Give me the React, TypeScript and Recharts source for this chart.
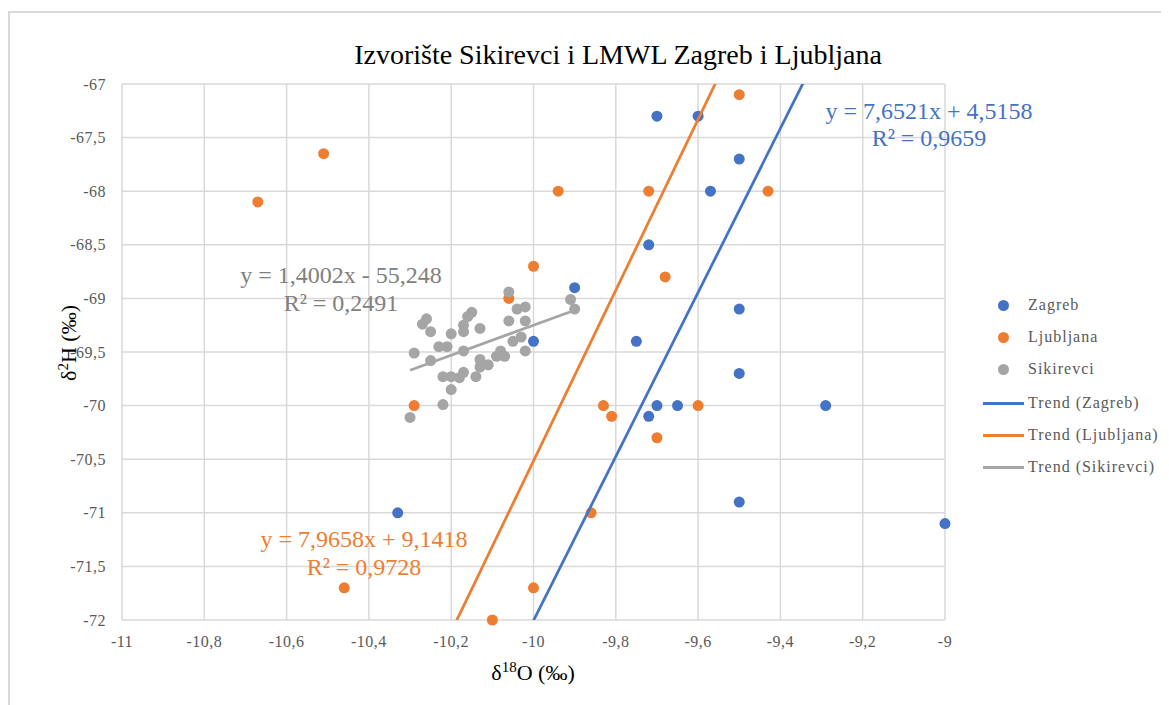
import React from 'react'
import { ScatterChart, Scatter, XAxis, YAxis, CartesianGrid } from 'recharts'

// δ18O / δ2H pairs
const zagrebX = [-9.7, -9.6, -9.5, -9.57, -9.72, -9.9, -9.5, -9.75, -10.0, -9.5, -9.7, -9.65, -9.29, -9.72, -10.33, -9.5, -9.0]
const zagrebY = [-67.3, -67.3, -67.7, -68.0, -68.5, -68.9, -69.1, -69.4, -69.4, -69.7, -70.0, -70.0, -70.0, -70.1, -71.0, -70.9, -71.1]

const ljubljanaX = [-10.67, -10.51, -9.94, -9.72, -9.43, -9.5, -10.0, -9.68, -10.06, -10.29, -9.83, -9.81, -9.6, -9.7, -9.86, -10.46, -10.0, -10.1]
const ljubljanaY = [-68.1, -67.65, -68.0, -68.0, -68.0, -67.1, -68.7, -68.8, -69.0, -70.0, -70.0, -70.1, -70.0, -70.3, -71.0, -71.7, -71.7, -72.0]

const sikirevciX = [
  -10.06, -9.91, -9.9, -10.04, -10.02, -10.15, -10.16, -10.26, -10.27, -10.25,
  -10.06, -10.02, -10.17, -10.17, -10.2, -10.13, -10.23, -10.21, -10.05, -10.03,
  -10.02, -10.29, -10.17, -10.25, -10.13, -10.08, -10.09, -10.07, -10.11, -10.13,
  -10.22, -10.2, -10.18, -10.17, -10.14, -10.2, -10.22, -10.3,
]
const sikirevciY = [
  -68.94, -69.01, -69.1, -69.1, -69.08, -69.13, -69.17, -69.19, -69.24, -69.31,
  -69.21, -69.21, -69.25, -69.31, -69.33, -69.28, -69.45, -69.45, -69.4, -69.36,
  -69.49, -69.51, -69.49, -69.58, -69.57, -69.49, -69.54, -69.54, -69.62, -69.64,
  -69.73, -69.73, -69.74, -69.69, -69.73, -69.85, -69.99, -70.11,
]

// trend coefficients shown on the chart
const zagrebTrend = { slope: 7.6521, intercept: 4.5158 }
const ljubljanaTrend = { slope: 7.9658, intercept: 9.1418 }
const sikirevciTrend = { slope: 1.4002, intercept: -55.248 }

const xTicks = [-11, -10.8, -10.6, -10.4, -10.2, -10, -9.8, -9.6, -9.4, -9.2, -9]
const yTicks = [-72, -71.5, -71, -70.5, -70, -69.5, -69, -68.5, -68, -67.5, -67]

const BLUE = '#4472C4'
const ORANGE = '#ED7D31'
const GRAY = '#A5A5A5'
const SERIF = "'Liberation Serif', 'Times New Roman', serif"

const toPoints = (xs: number[], ys: number[]) => xs.map((x, i) => ({ x, y: ys[i] }))

const trendPoints = (xs: number[], t: { slope: number; intercept: number }) => {
  const lo = Math.min(...xs)
  const hi = Math.max(...xs)
  return [lo, hi].map((x) => ({ x, y: t.slope * x + t.intercept }))
}

const fmt = (v: number) => String(v).replace('.', ',')

const dot = (color: string) => (props: any) => (
  <circle cx={props.cx} cy={props.cy} r={5.5} fill={color} />
)
const noDot = () => <g />

const tickStyle = { fill: '#595959', fontSize: 16, fontFamily: SERIF, letterSpacing: 0.5, style: { fontFamily: SERIF } }

const legendItems = [
  { name: 'Zagreb', color: BLUE, kind: 'dot' },
  { name: 'Ljubljana', color: ORANGE, kind: 'dot' },
  { name: 'Sikirevci', color: GRAY, kind: 'dot' },
  { name: 'Trend (Zagreb)', color: BLUE, kind: 'line' },
  { name: 'Trend (Ljubljana)', color: ORANGE, kind: 'line' },
  { name: 'Trend (Sikirevci)', color: GRAY, kind: 'line' },
]
const legendRows = [297, 329, 361, 395, 427, 459]

const eqStyle = (color: string): React.CSSProperties => ({
  position: 'absolute',
  fontFamily: SERIF,
  fontSize: 24,
  color,
  whiteSpace: 'nowrap',
  transform: 'translate(-50%, -50%)',
  lineHeight: 1,
})

export default function App() {
  return (
    <div style={{ position: 'relative', width: 1161, height: 697, background: '#fff' }}>
      <div style={{ position: 'absolute', left: 0, top: 3, width: 1161, height: 1.5, background: '#D9D9D9' }} />
      <div style={{ position: 'absolute', left: 0, top: 3, width: 1.5, height: 694, background: '#D9D9D9' }} />

      <div
        style={{
          position: 'absolute', left: 610, top: 47, transform: 'translate(-50%, -50%)',
          fontFamily: SERIF, fontSize: 28, color: '#000', whiteSpace: 'nowrap', lineHeight: 1,
        }}
      >
        Izvorište Sikirevci i LMWL Zagreb i Ljubljana
      </div>

      <ScatterChart width={1161} height={697} margin={{ top: 76, right: 224, bottom: 0, left: 0 }}>
        <CartesianGrid stroke="#D9D9D9" strokeWidth={1.5} horizontalValues={yTicks} verticalValues={xTicks} />
        <XAxis
          type="number" dataKey="x" domain={[-11, -9]} ticks={xTicks} height={85}
          axisLine={false} tickLine={false} tickSize={8} tickMargin={8}
          tickFormatter={fmt}
          tick={tickStyle}
        />
        <YAxis
          type="number" dataKey="y" domain={[-72, -67]} ticks={yTicks} width={114}
          axisLine={false} tickLine={false} tickSize={8} tickMargin={8}
          tickFormatter={fmt}
          tick={tickStyle}
        />
        <XAxis xAxisId="t" type="number" dataKey="x" domain={[-11, -9]} hide allowDataOverflow />
        <YAxis yAxisId="t" type="number" dataKey="y" domain={[-72, -67]} hide allowDataOverflow />

        <Scatter name="Zagreb" data={toPoints(zagrebX, zagrebY)} fill={BLUE} shape={dot(BLUE)} isAnimationActive={false} />
        <Scatter name="Ljubljana" data={toPoints(ljubljanaX, ljubljanaY)} fill={ORANGE} shape={dot(ORANGE)} isAnimationActive={false} />
        <Scatter name="Sikirevci" data={toPoints(sikirevciX, sikirevciY)} fill={GRAY} shape={dot(GRAY)} isAnimationActive={false} />

        <Scatter xAxisId="t" yAxisId="t" name="Trend (Zagreb)" data={trendPoints(zagrebX, zagrebTrend)} fill={BLUE}
          line={{ stroke: BLUE, strokeWidth: 2.75 }} shape={noDot} isAnimationActive={false} />
        <Scatter xAxisId="t" yAxisId="t" name="Trend (Ljubljana)" data={trendPoints(ljubljanaX, ljubljanaTrend)} fill={ORANGE}
          line={{ stroke: ORANGE, strokeWidth: 2.75 }} shape={noDot} isAnimationActive={false} />
        <Scatter xAxisId="t" yAxisId="t" name="Trend (Sikirevci)" data={trendPoints(sikirevciX, sikirevciTrend)} fill={GRAY}
          line={{ stroke: GRAY, strokeWidth: 2.75 }} shape={noDot} isAnimationActive={false} />
      </ScatterChart>

      {/* trendline equations */}
      <div style={{ ...eqStyle(BLUE), left: 921, top: 103 }}>y = 7,6521x + 4,5158</div>
      <div style={{ ...eqStyle(BLUE), left: 921, top: 130 }}>R² = 0,9659</div>
      <div style={{ ...eqStyle(ORANGE), left: 356, top: 531 }}>y = 7,9658x + 9,1418</div>
      <div style={{ ...eqStyle(ORANGE), left: 356, top: 559 }}>R² = 0,9728</div>
      <div style={{ ...eqStyle('#808080'), left: 333, top: 267 }}>y = 1,4002x - 55,248</div>
      <div style={{ ...eqStyle('#808080'), left: 333, top: 295 }}>R² = 0,2491</div>

      {/* axis titles */}
      <div
        style={{
          position: 'absolute', left: 525, top: 664, transform: 'translate(-50%, -50%)',
          fontFamily: SERIF, fontSize: 22, color: '#000', whiteSpace: 'nowrap', lineHeight: 1,
        }}
      >
        δ<sup style={{ fontSize: 15 }}>18</sup>O (‰)
      </div>
      <div
        style={{
          position: 'absolute', left: 60, top: 335, transform: 'translate(-50%, -50%) rotate(-90deg)',
          fontFamily: SERIF, fontSize: 22, color: '#000', whiteSpace: 'nowrap', lineHeight: 1,
        }}
      >
        δ<sup style={{ fontSize: 15 }}>2</sup>H (‰)
      </div>

      {/* legend */}
      {legendItems.map((item, i) => (
        <div key={item.name} style={{ position: 'absolute', left: 975, top: legendRows[i], height: 0 }}>
          {item.kind === 'dot' ? (
            <div style={{ position: 'absolute', left: 14.5, top: -5.5, width: 11, height: 11, borderRadius: '50%', background: item.color }} />
          ) : (
            <div style={{ position: 'absolute', left: 0, top: -1.5, width: 41, height: 3, background: item.color }} />
          )}
          <div
            style={{
              position: 'absolute', left: 45, top: -10, fontFamily: SERIF, fontSize: 16, letterSpacing: 1,
              color: '#595959', whiteSpace: 'nowrap', lineHeight: '20px',
            }}
          >
            {item.name}
          </div>
        </div>
      ))}
    </div>
  )
}
